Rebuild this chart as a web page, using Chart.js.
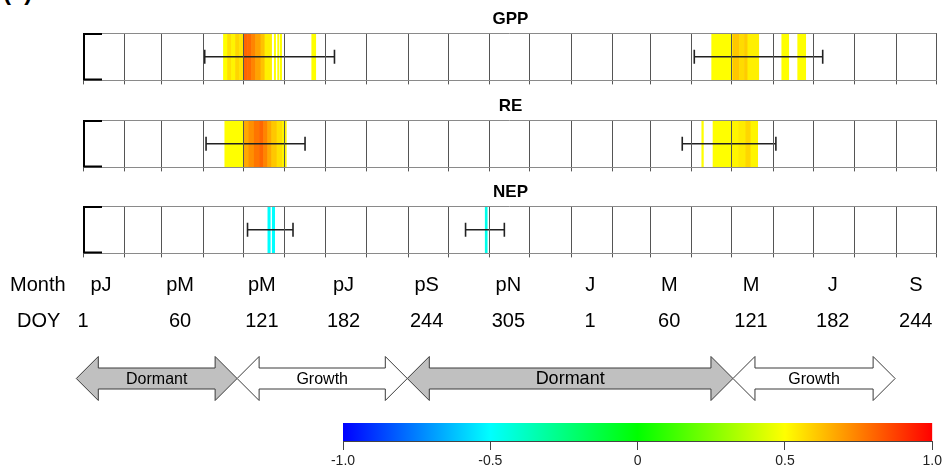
<!DOCTYPE html>
<html>
<head>
<meta charset="utf-8">
<title>GPP, RE and NEP correlation by day of year</title>
<script src="https://cdn.jsdelivr.net/npm/chart.js@4.4.1/dist/chart.umd.min.js"></script>
<style>
  html, body { margin: 0; padding: 0; background: #fff; }
  #fig { position: relative; width: 945px; height: 472px; overflow: hidden; }
  #fig canvas { position: absolute; left: 0; }
  #tag { position: absolute; left: 3px; top: -19px; font: bold 24px 'Liberation Sans', Arial, sans-serif; line-height: 22px; color: #000; }
</style>
</head>
<body>
<div id="fig"><div id="tag">(a)</div></div>
<script>
// ---- time axis: days counted from 1 January of the previous year ----
const monthStarts = [0, 31, 59, 90, 120, 151, 181, 212, 243, 273, 304, 334,
                     365, 396, 424, 455, 485, 516, 546, 577, 608, 638];
const labelDays   = [0, 59, 120, 181, 243, 304, 365, 424, 485, 546, 608];
const monthLabels = ['pJ', 'pM', 'pM', 'pJ', 'pS', 'pN', 'J', 'M', 'M', 'J', 'S'];
const doyLabels   = ['1', '60', '121', '182', '244', '305', '1', '60', '121', '182', '244'];

// ---- significant correlation runs: first day, last day, r ----
const gppFrom = [105, 108, 111, 114, 117, 120, 123, 126, 129, 133, 136, 143, 145.5, 147.5, 171,
                 470, 485.8, 490.8, 494.5, 497, 522.4, 534.3];
const gppTo   = [108, 111, 114, 117, 120, 123, 126, 129, 133, 136, 141, 144, 146.5, 148.5, 174,
                 485.8, 490.8, 494.5, 497, 505.2, 527.6, 540.3];
const gppR    = [0.50, 0.56, 0.52, 0.58, 0.55, 0.80, 0.79, 0.74, 0.68, 0.62, 0.53, 0.50, 0.50, 0.50, 0.50,
                 0.50, 0.61, 0.57, 0.60, 0.53, 0.50, 0.50];

const reFrom = [106, 120, 124, 128, 132, 135, 138, 141, 145, 149, 462.6, 471, 485, 490, 495.5, 499.3];
const reTo   = [120, 124, 128, 132, 135, 138, 141, 145, 149, 152, 463.8, 485, 490, 495.5, 499.3, 504.4];
const reR    = [0.50, 0.67, 0.72, 0.77, 0.80, 0.74, 0.67, 0.61, 0.56, 0.52, 0.50, 0.50, 0.52, 0.54, 0.58, 0.52];

const nepFrom = [138.2, 141.5, 300.7];
const nepTo   = [140.0, 143.3, 302.2];
const nepR    = [-0.50, -0.50, -0.46];

// ---- ranges shown as horizontal bars ----
const gppErrFrom = [91, 457];  const gppErrTo = [188, 553];
const reErrFrom  = [92, 448];  const reErrTo  = [166, 518];
const nepErrFrom = [123, 286]; const nepErrTo = [157, 315];

// ---- phenological phases ----
const phaseNames  = ['Dormant', 'Growth', 'Dormant', 'Growth'];
const phaseBounds = [-5, 115, 242, 485, 606];

// ---- colour scale ----
const rampStops = [[-1, [0, 0, 255]], [-0.5, [0, 255, 255]], [0, [0, 255, 0]], [0.5, [255, 255, 0]], [1, [255, 0, 0]]];
const colorTicks = [-1, -0.5, 0, 0.5, 1];

const FONT = "'Liberation Sans', Arial, Helvetica, sans-serif";
Chart.defaults.font.family = FONT;
const fig = document.getElementById('fig');

function rampColor(r) {
  const v = Math.max(-1, Math.min(1, r));
  for (let i = 1; i < rampStops.length; i++) {
    const [b, cb] = rampStops[i];
    if (v <= b) {
      const [a, ca] = rampStops[i - 1];
      const t = (v - a) / (b - a);
      return 'rgb(' + ca.map((c, k) => Math.round(c + (cb[k] - c) * t)).join(',') + ')';
    }
  }
  return 'rgb(255,0,0)';
}

function makeCanvas(top, height) {
  const cv = document.createElement('canvas');
  cv.width = 945; cv.height = height;
  cv.style.top = top + 'px';
  fig.appendChild(cv);
  return cv;
}

// grey box round the panel plus the black bracket on its left side
const panelFrame = {
  id: 'panelFrame',
  afterDraw(chart) {
    const { ctx, chartArea: a } = chart;
    ctx.save();
    ctx.strokeStyle = '#8a8a8a';
    ctx.lineWidth = 1;
    ctx.beginPath();
    ctx.moveTo(a.left, a.top + 0.5);
    ctx.lineTo(a.right, a.top + 0.5);
    ctx.stroke();
    ctx.strokeStyle = '#000';
    ctx.lineWidth = 2;
    ctx.beginPath();
    ctx.moveTo(a.left + 19, a.top + 1);
    ctx.lineTo(a.left + 1, a.top + 1);
    ctx.lineTo(a.left + 1, a.bottom - 1);
    ctx.lineTo(a.left + 19, a.bottom - 1);
    ctx.stroke();
    ctx.restore();
  }
};

function panel(top, name, from, to, r, errFrom, errTo) {
  const cv = makeCanvas(top, 78);
  const datasets = [{
    type: 'bar',
    data: from.map((s, i) => ({ x: [s, to[i]], y: name })),
    backgroundColor: r.map(rampColor),
    borderWidth: 0,
    barPercentage: 1,
    categoryPercentage: 1,
    order: 2
  }];
  errFrom.forEach((lo, i) => {
    datasets.push({
      type: 'line',
      data: [{ x: lo, y: name }, { x: errTo[i], y: name }],
      borderColor: '#222',
      borderWidth: 1.6,
      pointStyle: 'line',
      rotation: 90,
      pointRadius: 7,
      pointBorderWidth: 1.6,
      pointBorderColor: '#222',
      order: 1
    });
  });
  return new Chart(cv, {
    type: 'bar',
    data: { labels: [name], datasets },
    options: {
      responsive: false,
      animation: false,
      events: [],
      indexAxis: 'y',
      layout: { padding: { left: 83, right: 7, top: 0, bottom: 0 } },
      plugins: {
        legend: { display: false },
        tooltip: { enabled: false },
        title: {
          display: true, text: name, color: '#000',
          font: { family: FONT, size: 17, weight: 'bold', lineHeight: 1 },
          padding: { top: 0, bottom: 5 }
        }
      },
      scales: {
        x: {
          type: 'linear', min: 0, max: 638,
          afterBuildTicks: s => { s.ticks = monthStarts.map(v => ({ value: v })); },
          ticks: { display: false },
          grid: { color: '#555', lineWidth: 1, drawTicks: true, tickLength: 4, z: 1 },
          border: { display: true, color: '#8a8a8a', z: 1 }
        },
        y: { type: 'category', display: false }
      }
    },
    plugins: [panelFrame]
  });
}

panel(11, 'GPP', gppFrom, gppTo, gppR, gppErrFrom, gppErrTo);
panel(98, 'RE', reFrom, reTo, reR, reErrFrom, reErrTo);
panel(184, 'NEP', nepFrom, nepTo, nepR, nepErrFrom, nepErrTo);

// ---- month / DOY labels and phase arrows on the same day axis ----
const LABEL_SHIFT = 18;
function blockArrow(ctx, x0, x1, yc, bodyH, headH, headL) {
  ctx.beginPath();
  ctx.moveTo(x0, yc);
  ctx.lineTo(x0 + headL, yc - headH);
  ctx.lineTo(x0 + headL, yc - bodyH);
  ctx.lineTo(x1 - headL, yc - bodyH);
  ctx.lineTo(x1 - headL, yc - headH);
  ctx.lineTo(x1, yc);
  ctx.lineTo(x1 - headL, yc + headH);
  ctx.lineTo(x1 - headL, yc + bodyH);
  ctx.lineTo(x0 + headL, yc + bodyH);
  ctx.lineTo(x0 + headL, yc + headH);
  ctx.closePath();
  ctx.fill();
  ctx.stroke();
}

const timeline = {
  id: 'timeline',
  afterDraw(chart) {
    const { ctx, chartArea: a } = chart;
    const xs = chart.scales.x;
    const yMonth = 25, yDoy = 61, yArrow = 118.5;
    ctx.save();
    ctx.fillStyle = '#000';
    ctx.textBaseline = 'middle';
    ctx.font = '20px ' + FONT;
    ctx.textAlign = 'left';
    ctx.fillText('Month', 10, yMonth);
    ctx.fillText('DOY', 17, yDoy);
    ctx.textAlign = 'center';
    labelDays.forEach((d, i) => {
      const x = xs.getPixelForValue(d) + LABEL_SHIFT;
      ctx.fillText(monthLabels[i], x, yMonth);
      ctx.fillText(doyLabels[i], i === 0 ? a.left : x, yDoy);
    });

    ctx.lineWidth = 1;
    ctx.strokeStyle = '#3a3a3a';
    phaseNames.forEach((name, i) => {
      const x0 = xs.getPixelForValue(phaseBounds[i]);
      const x1 = xs.getPixelForValue(phaseBounds[i + 1]);
      ctx.fillStyle = name === 'Dormant' ? '#c0c0c0' : '#ffffff';
      blockArrow(ctx, x0, x1, yArrow, 10.5, 22, 22);
      ctx.fillStyle = '#000';
      ctx.font = ((x1 - x0) > 250 ? 18 : 16) + 'px ' + FONT;
      ctx.fillText(name, (x0 + x1) / 2, yArrow + 1);
    });
    ctx.restore();
  }
};

new Chart(makeCanvas(260, 150), {
  type: 'scatter',
  data: { datasets: [] },
  options: {
    responsive: false, animation: false, events: [],
    layout: { padding: { left: 83, right: 7, top: 0, bottom: 0 } },
    plugins: { legend: { display: false }, tooltip: { enabled: false } },
    scales: {
      x: { type: 'linear', min: 0, max: 638, display: false },
      y: { type: 'linear', min: 0, max: 1, display: false }
    }
  },
  plugins: [timeline]
});

// ---- colour bar ----
new Chart(makeCanvas(418, 52), {
  type: 'bar',
  data: {
    labels: ['r'],
    datasets: [{
      data: [{ x: [colorTicks[0], colorTicks[colorTicks.length - 1]], y: 'r' }],
      backgroundColor(c) {
        const chart = c.chart;
        if (!chart.chartArea) return '#fff';
        const xs = chart.scales.x;
        const g = chart.ctx.createLinearGradient(xs.getPixelForValue(-1), 0, xs.getPixelForValue(1), 0);
        rampStops.forEach(([v, rgb]) => g.addColorStop((v + 1) / 2, 'rgb(' + rgb.join(',') + ')'));
        return g;
      },
      borderWidth: 0,
      barPercentage: 1,
      categoryPercentage: 1
    }]
  },
  options: {
    responsive: false, animation: false, events: [],
    indexAxis: 'y',
    layout: { padding: { left: 343, right: 11, top: 5, bottom: 0 } },
    plugins: { legend: { display: false }, tooltip: { enabled: false } },
    scales: {
      x: {
        type: 'linear', min: -1, max: 1,
        afterBuildTicks: s => { s.ticks = colorTicks.map(v => ({ value: v })); },
        afterFit: s => { s.height = 29; },
        ticks: {
          callback: v => (v === 0 ? '0' : v.toFixed(1)),
          font: { size: 14 }, color: '#222', padding: 3, maxRotation: 0, autoSkip: false
        },
        grid: { drawOnChartArea: false, drawTicks: true, tickLength: 9, color: '#444' },
        border: { display: true, color: '#444' }
      },
      y: { type: 'category', display: false }
    }
  }
});
</script>
</body>
</html>
